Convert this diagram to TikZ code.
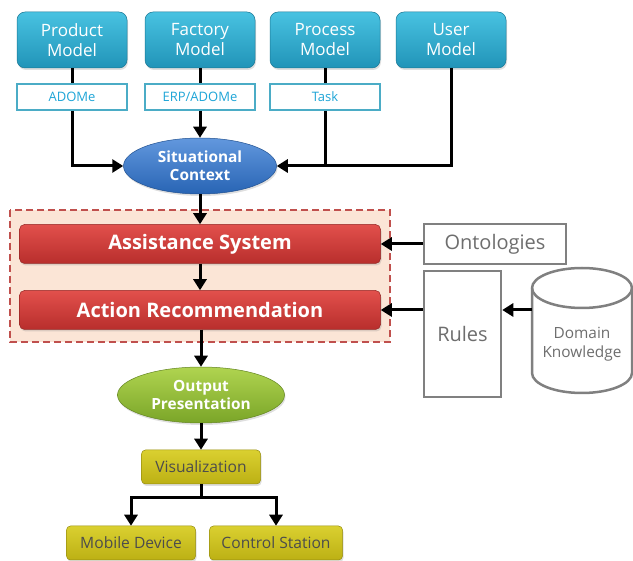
\documentclass[tikz,border=0pt]{standalone}
\usepackage{fontspec}
\setmainfont{Open Sans}
\usepackage{tikz}
\usetikzlibrary{arrows.meta, shapes, positioning, shadows}
\usepackage{xcolor}
\definecolor{modeltop}{RGB}{72,194,225}
\definecolor{modelbottom}{RGB}{33,148,184}
\tikzset{modelnode/.style={rectangle, rounded corners=8pt, top color=modeltop, bottom color=modelbottom, draw=modelbottom!80!black, line width=0.5pt, minimum width=110pt, minimum height=56pt, inner sep=0pt, align=center, text=white, font=\fontsize{17}{20}\selectfont, drop shadow={opacity=0.25, shadow xshift=1pt, shadow yshift=-2pt}}}
\definecolor{tagcyan}{RGB}{75,172,198}
\definecolor{tagtext}{RGB}{30,165,215}
\tikzset{tagnode/.style={rectangle, fill=white, draw=tagcyan, line width=2pt, minimum width=110pt, minimum height=26pt, inner sep=0pt, text=tagtext, font=\fontsize{13}{15}\selectfont}}
\definecolor{contexttop}{RGB}{98,152,222}
\definecolor{contextbottom}{RGB}{40,100,180}
\tikzset{contextnode/.style={ellipse, top color=contexttop, bottom color=contextbottom, draw=contextbottom!80!black, line width=0.5pt, minimum width=153pt, minimum height=56pt, inner sep=0pt, align=center, text=white, font=\bfseries\fontsize{15.4}{18}\selectfont, drop shadow={opacity=0.25, shadow xshift=1pt, shadow yshift=-2pt}}}
\definecolor{systemtop}{RGB}{226,80,76}
\definecolor{systembottom}{RGB}{184,46,44}
\tikzset{systemnode/.style={rectangle, rounded corners=5pt, top color=systemtop, bottom color=systembottom, draw=systembottom!80!black, line width=0.5pt, minimum width=361pt, minimum height=39pt, inner sep=0pt, text=white, font=\bfseries\fontsize{20}{23}\selectfont, drop shadow={opacity=0.25, shadow xshift=1pt, shadow yshift=-2pt}}}
\definecolor{groupfill}{RGB}{251,229,214}
\definecolor{groupline}{RGB}{192,80,77}
\tikzset{groupbox/.style={fill=groupfill, draw=groupline, line width=2pt, dash pattern=on 7pt off 4pt}}
\definecolor{knowgray}{RGB}{128,128,128}
\definecolor{knowtext}{RGB}{110,110,110}
\tikzset{knownode/.style={rectangle, fill=white, draw=knowgray, line width=2.5pt, inner sep=0pt, text=knowtext},
storeline/.style={fill=white, draw=knowgray, line width=2.5pt}}
\definecolor{outputtop}{RGB}{176,212,80}
\definecolor{outputbottom}{RGB}{122,165,40}
\tikzset{outputnode/.style={ellipse, top color=outputtop, bottom color=outputbottom, draw=outputbottom!80!black, line width=0.5pt, minimum width=167pt, minimum height=56pt, inner sep=0pt, align=center, text=white, font=\bfseries\fontsize{15.4}{18}\selectfont, drop shadow={opacity=0.25, shadow xshift=1pt, shadow yshift=-2pt}}}
\definecolor{devicetop}{RGB}{218,208,48}
\definecolor{devicebottom}{RGB}{188,176,20}
\tikzset{devicenode/.style={rectangle, rounded corners=4pt, top color=devicetop, bottom color=devicebottom, draw=devicebottom!80!black, line width=0.5pt, minimum height=34pt, inner sep=0pt, text=black!70, font=\fontsize{15.6}{18}\selectfont, drop shadow={opacity=0.25, shadow xshift=1pt, shadow yshift=-2pt}}}
\tikzset{flow/.style={draw=black, line width=3pt, -{Triangle[length=11pt, width=13pt]}},
line/.style={draw=black, line width=3pt}}

\begin{document}
\begin{tikzpicture}[line join=miter]
        \useasboundingbox (0pt, 0pt) rectangle (633pt, -561pt);
        % Models
        \node[modelnode] (prod) at (72pt, -40pt) {Product\\Model};
        \node[modelnode] (fact) at (200pt, -40pt) {Factory\\Model};
        \node[modelnode] (proc) at (325pt, -40pt) {Process\\Model};
        \node[modelnode] (user) at (451pt, -40pt) {User\\Model};
        \node[tagnode] (adome) at (72pt, -97pt) {ADOMe};
        \node[tagnode] (erp) at (200pt, -97pt) {ERP/ADOMe};
        \node[tagnode] (task) at (325pt, -97pt) {Task};
        \node[contextnode] (sit) at (200pt, -166pt) {Situational\\Context};
        % Model connectors
        \draw[line] (prod) -- (adome);
        \draw[line] (fact) -- (erp);
        \draw[line] (proc) -- (task);
        \draw[flow] (adome.south) |- (sit.west);
        \draw[flow] (erp) -- (sit);
        \draw[line] (task.south) -- (task.south |- sit.east);
        \draw[flow] (user.south) |- (sit.east);
        % Assistance group
        \draw[groupbox] (10pt, -210pt) rectangle (390pt, -342pt);
        \node[systemnode] (asys) at (200pt, -244pt) {Assistance System};
        \node[systemnode] (arec) at (200pt, -310pt) {Action Recommendation};
        \draw[flow] (sit) -- (asys);
        \draw[flow] (asys) -- (arec);
        % Knowledge
        \node[knownode, minimum width=142pt, minimum height=40pt, font=\fontsize{20}{24}\selectfont] (onto) at (495pt, -244pt) {Ontologies};
        \node[knownode, minimum width=77pt, minimum height=126pt, font=\fontsize{20}{24}\selectfont] (rules) at (462.5pt, -334pt) {Rules};
        \draw[storeline] (532pt, -288pt) -- (532pt, -373pt) arc (180:360:50pt and 20pt) -- (632pt, -288pt) arc (0:180:50pt and 20pt) -- cycle;
        \draw[storeline, fill=none] (532pt, -288pt) arc (180:360:50pt and 20pt);
        \node[minimum width=100pt, inner sep=0pt, align=center, text=knowtext, font=\fontsize{15.4}{19}\selectfont] (domain) at (582pt, -344pt) {Domain\\Knowledge};
        \draw[flow] (onto) -- (asys);
        \draw[flow] (rules.west |- arec) -- (arec.east);
        \draw[flow] (domain.west |- arec) -- (rules.east |- arec);
        % Output
        \node[outputnode] (outp) at (201pt, -395pt) {Output\\Presentation};
        \node[devicenode, minimum width=119pt] (vis) at (201pt, -467pt) {Visualization};
        \node[devicenode, minimum width=129pt] (mobile) at (131pt, -543pt) {Mobile Device};
        \node[devicenode, minimum width=133pt] (ctrl) at (276pt, -543pt) {Control Station};
        \draw[flow] (arec.south -| outp) -- (outp);
        \draw[flow] (outp) -- (vis);
        \draw[line] (vis.south) -- ++(0pt, -13pt) coordinate (split);
        \draw[flow] (split) -| (mobile.north);
        \draw[flow] (split) -| (ctrl.north);
    \end{tikzpicture}
\end{document}
